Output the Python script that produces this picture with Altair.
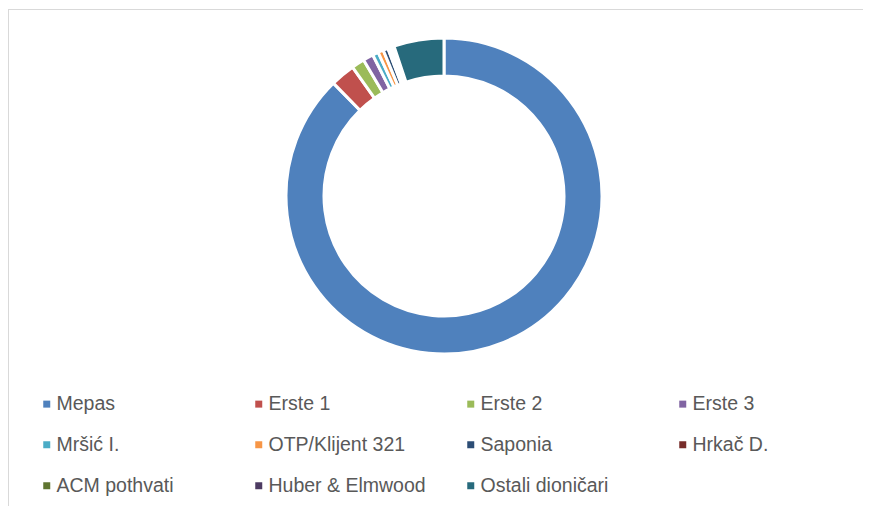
import altair as alt
import pandas as pd

names = ["Mepas", "Erste 1", "Erste 2", "Erste 3", "Mršić I.", "OTP/Klijent 321",
         "Saponia", "Hrkač D.", "ACM pothvati", "Huber & Elmwood", "Ostali dioničari"]
shares = [87.3, 2.5, 1.33, 1.05, 0.6, 0.55, 0.5, 0.22, 0.22, 0.22, 5.1]
colors = ["#4F81BD", "#C0504D", "#9BBB59", "#8064A2", "#4BACC6", "#F79646",
          "#2C4D75", "#772C2A", "#5F7530", "#4D3B62", "#276A7C"]

df = pd.DataFrame({"name": names, "share": shares, "idx": list(range(len(names)))})

W, H = 855, 498

arc = alt.Chart(df).mark_arc(outerRadius=158, innerRadius=120, stroke="white", strokeWidth=3).encode(
    theta=alt.Theta("share:Q", stack=True),
    order=alt.Order("idx:Q"),
    color=alt.Color(
        "name:N",
        scale=alt.Scale(domain=names, range=colors),
        sort=names,
        legend=alt.Legend(
            title=None, orient="none", legendX=29, legendY=386,
            direction="horizontal", columns=4, columnPadding=35, rowPadding=20,
            symbolType="square", symbolSize=49, symbolStrokeWidth=0,
            labelFontSize=19.5, labelFont="Liberation Sans", labelColor="#595959",
            labelOffset=0, gridAlign="all", padding=0,
        ),
    ),
    x=alt.value(436),
    y=alt.value(188),
)

one = pd.DataFrame({"a": [0]})
top = alt.Chart(one).mark_rule(color="#d9d9d9", strokeWidth=1).encode(
    x=alt.value(0), x2=alt.value(W), y=alt.value(1.5)
)
left = alt.Chart(one).mark_rule(color="#d9d9d9", strokeWidth=1).encode(
    x=alt.value(0.5), y=alt.value(1), y2=alt.value(H)
)

chart = alt.layer(top, left, arc).properties(
    width=W, height=H, autosize="none", padding=0
).configure_view(stroke=None)

chart.save("out.html", embed_options={"renderer": "svg", "actions": False})
